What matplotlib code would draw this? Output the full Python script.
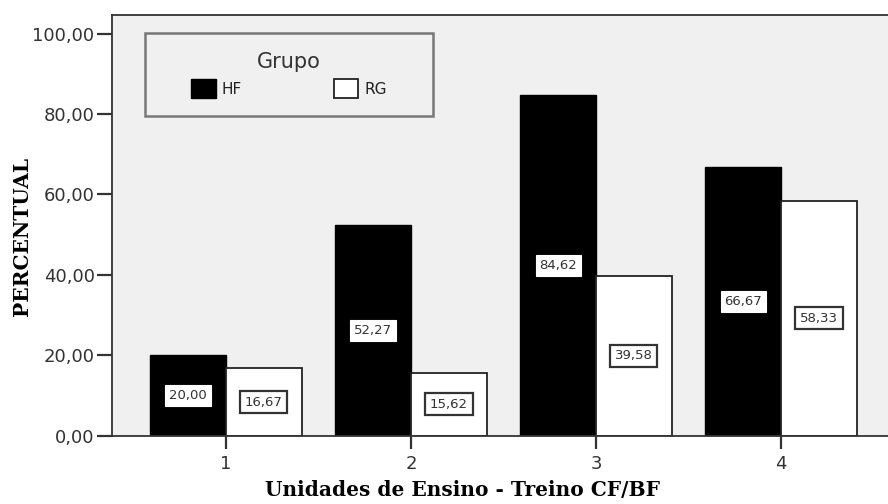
import matplotlib
matplotlib.use("Agg")
import matplotlib.pyplot as plt
from matplotlib.patches import Rectangle
import numpy as np

# dados
unidades = ["1", "2", "3", "4"]
hf_vals = [20.00, 52.27, 84.62, 66.67]
rg_vals = [16.67, 15.62, 39.58, 58.33]
yticks = [0, 20, 40, 60, 80, 100]

plt.rcParams["font.family"] = ["DejaVu Sans"]


def fmt(v):
    return f"{v:.2f}".replace(".", ",")


fig = plt.figure(figsize=(8.88, 5.04), dpi=100)
ax = fig.add_axes([0.1261, 0.1359, 0.8818, 0.8343])
ax.set_facecolor("#f0f0f0")

x = np.arange(1, len(unidades) + 1)
w = 0.41
ax.bar(x - w / 2, hf_vals, w, color="black", edgecolor="black", linewidth=1, label="HF")
ax.bar(x + w / 2, rg_vals, w, color="white", edgecolor="#222222", linewidth=1.3, label="RG")

# rótulos de valor no meio das barras
for xi, v in zip(x - w / 2, hf_vals):
    ax.text(xi, v / 2, fmt(v), ha="center", va="center", fontsize=9.5, color="#333333",
            bbox=dict(boxstyle="square,pad=0.28", fc="white", ec="white", lw=0.8))
for xi, v in zip(x + w / 2, rg_vals):
    ax.text(xi, v / 2, fmt(v), ha="center", va="center", fontsize=9.5, color="#333333",
            bbox=dict(boxstyle="square,pad=0.35", fc="white", ec="#333333", lw=1.6))

ax.set_xlim(0.384, 4.616)
ax.set_ylim(0, 104.6)
ax.set_xticks(x)
ax.set_xticklabels(unidades, fontsize=13)
ax.set_yticks(yticks)
ax.set_yticklabels([fmt(t) for t in yticks], fontsize=13)
ax.tick_params(axis="y", direction="out", length=11, width=1.6, color="#333333",
               labelcolor="#333333", pad=1.5)
ax.tick_params(axis="x", direction="out", length=9.5, width=1.6, color="#333333",
               labelcolor="#333333", pad=4.5)

for s in ax.spines.values():
    s.set_color("#333333")
    s.set_linewidth(1.3)

ax.set_ylabel("PERCENTUAL", fontsize=14.5, fontweight="bold", family="DejaVu Serif")
ax.set_xlabel("Unidades de Ensino - Treino CF/BF", fontsize=14.5, fontweight="bold",
              family="DejaVu Serif")
ax.yaxis.set_label_coords(-0.102, 0.474)
ax.xaxis.set_label_coords(0.448, -0.106)

# caixa da legenda
ax.add_patch(Rectangle((0.042, 0.760), 0.368, 0.197, transform=ax.transAxes,
                       fc="#f0f0f0", ec="#777777", lw=1.8, zorder=4))
leg = ax.legend(title="Grupo", ncol=2, loc="center", bbox_to_anchor=(0.226, 0.858),
                fontsize=11, title_fontsize=15, frameon=False,
                handlelength=1.6, handleheight=1.5, columnspacing=6.0, handletextpad=0.4)
leg.set_zorder(5)
for t in leg.get_texts():
    t.set_color("#222222")
leg.get_title().set_color("#333333")

fig.savefig("out.png", dpi=100)
